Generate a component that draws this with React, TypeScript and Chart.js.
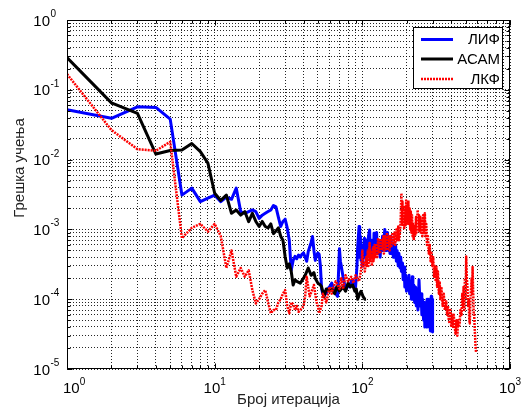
import React, { useEffect, useRef } from 'react';
import { Chart, registerables } from 'chart.js';
Chart.register(...registerables);

// ЛИФ (blue)
const lifX = [1,2,3,4,5,6,7,8,9,10,
  11,12,13,14,15,16,17,18,19,20,
  21,22,23,24,25,26,27,28,29,30,
  31,32,33,34,35,36,37,38,39,40,
  41,42,43,44,45,46,47,48,49,50,
  51,52,53,54,55,56,57,58,60,62,
  64,66,68,70,71,72,74,76,78,80,
  82,84,86,88,90,92,
  93,95,96,97,98,99,100,101,102,103,
  104,105,106,107,108,109,110,112,113,114,
  115,116,117,118,119,120,121,122,123,125,
  126,128,129,131,132,134,135,137,138,140,
  142,143,145,146,148,150,152,154,156,158,
  160,162,164,166,168,170,172,175,177,180,
  182,184,187,189,192,194,197,199,202,204,
  207,209,212,215,218,220,223,226,229,232,
  235,238,242,246,250,253,256,260,263,265,
  268,271,274,277,280,283,286,289,291,293,
  295,297,298,299,300];
const lifY = [0.052,0.039,0.057,0.056,0.038,0.0031,0.0039,0.0025,0.0028,0.0031,
  0.0025,0.0029,0.0027,0.0039,0.0018,0.0017,0.0018,0.0019,0.0018,0.00144,
  0.0016,0.0017,0.0018,0.0019,0.0022,0.0021,0.0015,0.0011,0.0013,0.0014,
  0.00105,0.0007,0.00026,0.00036,0.00041,0.00038,0.00043,0.0004,0.00044,0.00046,
  0.0004,0.00035,0.00048,0.00056,0.00065,0.00079,0.0005,0.00036,0.00042,0.00046,
  0.00044,0.0003,0.00014,0.00012,0.00011,0.00013,0.00012,0.00014,0.00015,0.00017,
  0.00014,0.00012,0.00011,0.00053,0.00035,0.0003,0.00021,0.00016,0.00014,0.00016,
  0.00015,0.00018,0.00019,0.00016,0.00015,0.0003,
  0.00056,0.0011,0.0004,0.0008,0.00036,0.0005,0.0003,0.0006,0.0004,0.00074,
  0.00045,0.0004,0.0007,0.00035,0.0006,0.0004,0.0008,0.00098,0.0005,0.0007,
  0.0004,0.0007,0.00045,0.0006,0.0004,0.00088,0.0005,0.0007,0.00045,0.0009,
  0.0005,0.0007,0.00045,0.0006,0.0004,0.0007,0.0005,0.0008,0.0005,0.0007,
  0.001,0.0005,0.0008,0.0005,0.0009,0.0005,0.0007,0.00045,0.0008,0.0005,
  0.00064,0.0004,0.0006,0.0004,0.0006,0.00035,0.0005,0.0003,0.00045,0.00028,
  0.0004,0.00025,0.00033,0.00019,0.00029,0.00015,0.00022,0.00013,0.0002,0.00014,
  0.00022,0.00012,0.00018,0.0001,0.00021,0.0001,0.00016,0.00009,0.00015,0.00008,
  0.00014,0.00007,0.00019,0.00008,0.00012,0.00006,0.0001,0.00005,0.00009,0.00004,
  0.00009,0.00004,0.0001,0.000045,0.0001,0.00004,0.00009,0.000035,0.0001,0.00011,
  0.000035,0.0001,0.000035,0.0001,0.000034];

// АСАМ (black)
const asamX = [1,2,3,4,5,6,7,8,9,10,
  11,12,13,14,15,16,17,18,19,20,
  21,22,23,24,25,26,27,28,29,30,
  31,32,33,34,35,36,38,40,41,43,
  45,47,48,50,52,53,55,57,60,62,
  65,67,70,74,77,80,83,86,89,91,
  93,96,98,101,104,106];
const asamY = [0.29,0.065,0.046,0.012,0.0135,0.0137,0.017,0.013,0.0089,0.0033,
  0.0026,0.0031,0.0017,0.0019,0.0016,0.0018,0.00129,0.0017,0.0013,0.0011,
  0.0013,0.0011,0.00105,0.0012,0.00087,0.00095,0.00105,0.0008,0.0007,0.00041,
  0.00028,0.00032,0.00025,0.00016,0.00019,0.00018,0.00017,0.0002,0.00022,0.00028,
  0.00022,0.00024,0.0002,0.00017,0.00016,0.00015,0.00011,0.00014,0.00013,0.00014,
  0.00012,0.00015,0.00013,0.00015,0.00013,0.00017,0.00015,0.00016,0.00013,0.00014,
  0.0001,0.00012,0.00013,0.00011,0.0001,0.0001];

// ЛКФ (red)
const lkfX = [1,2,3,4,5,6,7,8,9,10,
  11,12,13,14,15,16,17,18,19,20,
  21,22,23,24,25,26,27,28,29,30,
  31,32,33,34,35,36,37,38,40,41,
  42,43,44,46,47,49,50,51,53,54,
  56,57,60,62,63,66,68,70,72,74,
  77,80,84,87,90,95,
  98,100,101,103,104,106,107,109,110,112,
  113,115,116,118,119,121,122,125,126,128,
  129,131,132,135,136,139,140,143,144,147,
  149,151,153,155,157,160,162,165,167,170,
  172,175,177,180,182,184,185,187,188,190,
  192,194,196,198,200,202,204,205,207,209,
  211,213,215,217,219,221,223,226,228,231,
  233,237,239,242,244,247,249,252,255,258,
  261,265,268,271,274,278,282,286,290,294,
  298,302,306,310,314,317,321,325,330,334,
  338,343,350,356,362,370,375,380,385,390,
  395,400,405,411,416,422,428,434,440,445,
  450,456,462,470,475,480,485,490,495,500,
  505,510,515,520,525,530,534,538,542,546,
  550,554,558,562,565,568,572,576,580,585,
  590];
const lkfY = [0.168,0.0265,0.0141,0.0134,0.018,0.00075,0.00105,0.0012,0.00093,0.0012,
  0.0008,0.00028,0.0005,0.00021,0.00028,0.00021,0.00026,0.000135,0.000087,0.0001,
  0.00012,0.000135,0.00009,0.000063,0.00007,0.00007,0.00009,0.0001,0.00012,0.000135,
  0.00008,0.000063,0.00009,0.000085,0.00007,0.00008,0.000066,0.00007,0.00008,0.00011,
  0.00021,0.00015,0.00011,0.00014,0.00016,0.00009,0.00008,0.000063,0.00008,0.00012,
  0.0001,0.00009,0.00015,0.00012,0.00014,0.00018,0.00016,0.00014,0.0002,0.00014,
  0.00022,0.00018,0.00021,0.00017,0.00022,0.00018,
  0.00026,0.0005,0.0003,0.00035,0.00025,0.0004,0.0003,0.0005,0.0003,0.00064,
  0.00035,0.0005,0.0003,0.00055,0.00035,0.0006,0.0004,0.0006,0.0004,0.00075,
  0.00045,0.0007,0.00045,0.0007,0.0005,0.0008,0.00045,0.0008,0.0005,0.0009,
  0.0005,0.0008,0.0005,0.0008,0.00055,0.0009,0.0006,0.0009,0.0006,0.001,
  0.0007,0.0011,0.0007,0.0009,0.0015,0.0033,0.0012,0.0025,0.0011,0.0018,
  0.001,0.0022,0.0011,0.0026,0.0012,0.0022,0.0013,0.0026,0.0012,0.002,
  0.001,0.0018,0.0009,0.0016,0.0008,0.0012,0.0007,0.0011,0.0008,0.0015,
  0.0009,0.0019,0.001,0.0016,0.0009,0.0015,0.0009,0.0014,0.0008,0.0016,
  0.0009,0.0017,0.0008,0.0012,0.0006,0.0008,0.00045,0.0006,0.00035,0.00046,
  0.0003,0.0004,0.00021,0.0003,0.00018,0.0003,0.00015,0.00025,0.00012,0.00018,
  0.0001,0.00015,0.00008,0.00012,0.00007,0.000093,0.00006,0.00008,0.00005,0.000045,
  0.00007,0.00004,0.00006,0.00004,0.00006,0.00004,0.000032,0.00005,0.00003,0.00005,
  0.00004,0.000045,0.00007,0.00006,0.00012,0.00008,0.00015,0.00007,0.0002,0.0001,
  0.00041,0.0002,0.00015,0.00008,0.0001,0.00005,0.000045,0.00008,0.00012,0.00015,
  0.0002,0.00012,0.00029,0.00015,0.0001,0.00006,0.00006,0.00004,0.00003,0.00002,
  0.000017];

const seriesNames = ['ЛИФ', 'АСАМ', 'ЛКФ'];
const seriesColors = ['#0000ff', '#000000', '#ff0000'];
const xDecades = [0, 1, 2, 3];
const yDecades = [-5, -4, -3, -2, -1, 0];
const xTitle = 'Број итерација';
const yTitle = 'Грешка учења';

const FONT = '"Liberation Sans", Arial, Helvetica, sans-serif';

function logTicks(decs: number[]): number[] {
  const out: number[] = [];
  for (let i = 0; i < decs.length - 1; i++) {
    const b = Math.pow(10, decs[i]);
    for (let m = 1; m <= 9; m++) out.push(parseFloat((m * b).toPrecision(6)));
  }
  out.push(Math.pow(10, decs[decs.length - 1]));
  return out;
}

function isMajor(v: number) {
  const l = Math.log10(v);
  return Math.abs(l - Math.round(l)) < 1e-9;
}

const decorPlugin = {
  id: 'decor',
  afterDraw(chart: any) {
    const { ctx, chartArea: a, scales } = chart;
    const xs = scales.x;
    const ys = scales.y;
    ctx.save();
    ctx.setLineDash([]);
    ctx.strokeStyle = '#000';
    ctx.lineWidth = 1;
    const L = Math.round(a.left) + 0.5;
    const R = Math.round(a.right) - 0.5;
    const T = Math.round(a.top) + 0.5;
    const B = Math.round(a.bottom) - 0.5;
    ctx.strokeRect(L, T, R - L, B - T);

    // inward tick marks
    ctx.beginPath();
    for (const v of logTicks(xDecades)) {
      const px = Math.round(xs.getPixelForValue(v)) + 0.5;
      const len = isMajor(v) ? 5 : 3;
      ctx.moveTo(px, B); ctx.lineTo(px, B - len);
      ctx.moveTo(px, T); ctx.lineTo(px, T + len);
    }
    for (const v of logTicks(yDecades)) {
      const py = Math.round(ys.getPixelForValue(v)) + 0.5;
      const len = isMajor(v) ? 5 : 3;
      ctx.moveTo(L, py); ctx.lineTo(L + len, py);
      ctx.moveTo(R, py); ctx.lineTo(R - len, py);
    }
    ctx.stroke();

    // tick labels
    ctx.fillStyle = '#000';
    ctx.textBaseline = 'alphabetic';
    for (const e of xDecades) {
      const px = xs.getPixelForValue(Math.pow(10, e));
      ctx.font = `15px ${FONT}`;
      const w1 = ctx.measureText('10').width;
      ctx.font = `10px ${FONT}`;
      const w2 = ctx.measureText(String(e)).width;
      let start = px - (w1 + w2) / 2;
      if (start < a.left - 4) start = a.left - 4;
      ctx.textAlign = 'left';
      ctx.font = `15px ${FONT}`;
      ctx.fillText('10', start, a.bottom + 24);
      ctx.font = `10px ${FONT}`;
      ctx.fillText(String(e), start + w1, a.bottom + 16);
    }
    for (const e of yDecades) {
      const py = ys.getPixelForValue(Math.pow(10, e));
      ctx.font = `15px ${FONT}`;
      ctx.textAlign = 'right';
      ctx.fillText('10', a.left - 17, py + 5.5);
      ctx.font = `10px ${FONT}`;
      ctx.textAlign = 'left';
      ctx.fillText(String(e), a.left - 16.5, py - 3);
    }

    // axis titles
    ctx.fillStyle = '#222';
    ctx.font = `15px ${FONT}`;
    ctx.textAlign = 'center';
    ctx.fillText(xTitle, (a.left + a.right) / 2, a.bottom + 35);
    ctx.save();
    ctx.translate(24, 168);
    ctx.rotate(-Math.PI / 2);
    ctx.fillText(yTitle, 0, 0);
    ctx.restore();

    // legend
    const lx = 413.5, ly = 27.5, lw = 89, lh = 61;
    ctx.fillStyle = '#fff';
    ctx.fillRect(lx, ly, lw, lh);
    ctx.strokeStyle = '#000';
    ctx.lineWidth = 1;
    ctx.strokeRect(lx, ly, lw, lh);
    const rows = [39.5, 59, 79];
    chart.data.datasets.forEach((ds: any, i: number) => {
      const y = rows[i];
      ctx.save();
      ctx.strokeStyle = ds.borderColor;
      ctx.lineWidth = ds.borderWidth;
      ctx.setLineDash(ds.borderDash || []);
      ctx.beginPath();
      ctx.moveTo(421, y);
      ctx.lineTo(453, y);
      ctx.stroke();
      ctx.restore();
      ctx.fillStyle = '#000';
      ctx.font = `15px ${FONT}`;
      ctx.textAlign = 'right';
      ctx.textBaseline = 'middle';
      ctx.fillText(ds.label, 500, y + 0.5);
    });
    ctx.restore();
  },
};

function pts(xs: number[], ys: number[]) {
  return xs.map((x, i) => ({ x, y: ys[i] }));
}

export default function App() {
  const ref = useRef<HTMLCanvasElement | null>(null);
  useEffect(() => {
    if (!ref.current) return;
    const xTicks = logTicks(xDecades);
    const yTicks = logTicks(yDecades);
    const gridOpts = { color: 'rgba(0,0,0,0.85)', lineWidth: 1, drawTicks: false };
    const chart = new Chart(ref.current, {
      type: 'line',
      data: {
        datasets: [
          { label: seriesNames[0], data: pts(lifX, lifY), borderColor: seriesColors[0], borderWidth: 3, pointRadius: 0, fill: false, order: 2 },
          { label: seriesNames[1], data: pts(asamX, asamY), borderColor: seriesColors[1], borderWidth: 3, pointRadius: 0, fill: false, order: 1 },
          { label: seriesNames[2], data: pts(lkfX, lkfY), borderColor: seriesColors[2], borderWidth: 2.5, borderDash: [2, 1], pointRadius: 0, fill: false, order: 0 },
        ],
      },
      options: {
        responsive: false,
        animation: false,
        devicePixelRatio: 1,
        layout: { padding: { left: 67, top: 20, right: 17, bottom: 42 } },
        plugins: { legend: { display: false }, tooltip: { enabled: false } },
        elements: { line: { tension: 0, borderJoinStyle: 'round' } },
        scales: {
          x: {
            type: 'logarithmic', min: 1, max: 1000,
            afterBuildTicks: (s: any) => { s.ticks = xTicks.map((v) => ({ value: v })); },
            afterFit: (s: any) => { s.height = 0; },
            ticks: { display: false },
            grid: gridOpts,
            border: { display: false, dash: [1, 2] },
          },
          y: {
            type: 'logarithmic', min: 1e-5, max: 1,
            afterBuildTicks: (s: any) => { s.ticks = yTicks.map((v) => ({ value: v })); },
            afterFit: (s: any) => { s.width = 0; },
            ticks: { display: false },
            grid: gridOpts,
            border: { display: false, dash: [1, 2] },
          },
        },
      } as any,
      plugins: [decorPlugin],
    });
    return () => chart.destroy();
  }, []);
  return (
    <div style={{ position: 'fixed', left: 0, top: 0, width: 527, height: 411, background: '#fff' }}>
      <canvas ref={ref} width={527} height={411} style={{ display: 'block' }} />
    </div>
  );
}
